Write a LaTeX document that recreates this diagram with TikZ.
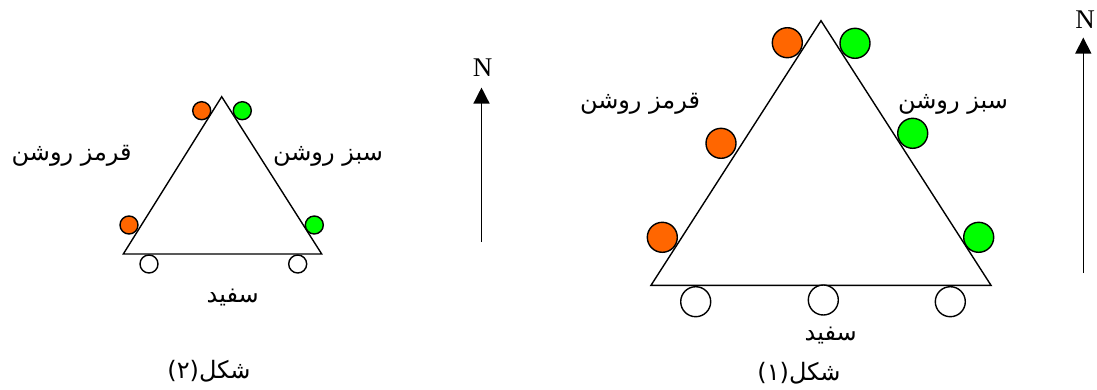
\documentclass[tikz,border=0pt]{standalone}
\usepackage{fontspec}
\setmainfont{Liberation Serif}
\newfontfamily\arabicfont[Script=Arabic]{DejaVu Sans}
\TeXXeTstate=1
\usetikzlibrary{arrows.meta}
\definecolor{rosh}{RGB}{255,102,0}
\definecolor{sabz}{RGB}{0,255,0}

\begin{document}
\begin{tikzpicture}[x=1pt, y=-1pt, line width=1.4pt,
    bead/.style={circle, draw, inner sep=0pt, minimum size=#1},
    fatext/.style={font=\arabicfont\fontsize{24}{28}\selectfont, inner sep=0pt},
    north/.style={font=\fontsize{27}{30}\selectfont, inner sep=0pt}]
  \useasboundingbox (0,0) rectangle (1097,389);

  % Figure 2 (small triangle)
  \coordinate (sA) at (221.7,96.7);
  \coordinate (sB) at (123.3,254);
  \coordinate (sC) at (321.7,254);
  \draw (sA) -- (sB) -- (sC) -- cycle;
  \node[bead=18, fill=rosh] (sr1) at (201.7,110.7) {};
  \node[bead=18, fill=rosh] (sr2) at (129,225) {};
  \node[bead=18, fill=sabz] (sg1) at (242.3,110.7) {};
  \node[bead=18, fill=sabz] (sg2) at (314.3,225) {};
  \node[bead=18, fill=white] (sw1) at (149,264) {};
  \node[bead=18, fill=white] (sw2) at (297.7,264) {};
  \node[fatext] (sred) at (71.7,156) {\beginR قرمز روشن\endR};
  \node[fatext] (sgreen) at (328,156) {\beginR سبز روشن\endR};
  \node[fatext] (swhite) at (232.7,298) {\beginR سفید\endR};
  \node[fatext] (scap) at (209,371) {(۲)\beginR شکل\endR};

  % North arrow, small
  \node[north] (sN) at (482.5,68) {N};
  \coordinate (sfoot) at (481.5,242);
  \draw[-{Triangle[width=16pt, length=16pt]}] (sfoot) -- ([yshift=-10pt]sN.south -| sfoot);

  % Figure 1 (large triangle)
  \coordinate (bA) at (821,20.7);
  \coordinate (bB) at (651,285.3);
  \coordinate (bC) at (991,285.3);
  \draw (bA) -- (bB) -- (bC) -- cycle;
  \node[bead=30, fill=rosh] (br1) at (787.3,42.7) {};
  \node[bead=30, fill=rosh] (br2) at (721,143.3) {};
  \node[bead=30, fill=rosh] (br3) at (662.3,237.3) {};
  \node[bead=30, fill=sabz] (bg1) at (855,43.3) {};
  \node[bead=30, fill=sabz] (bg2) at (912.7,133.3) {};
  \node[bead=30, fill=sabz] (bg3) at (978.7,237.3) {};
  \node[bead=30, fill=white] (bw1) at (695.7,301.7) {};
  \node[bead=30, fill=white] (bw2) at (823.3,300) {};
  \node[bead=30, fill=white] (bw3) at (950.3,301.7) {};
  \node[fatext] (bred) at (640,104) {\beginR قرمز روشن\endR};
  \node[fatext] (bgreen) at (953,104) {\beginR سبز روشن\endR};
  \node[fatext] (bwhite) at (830.7,336) {\beginR سفید\endR};
  \node[fatext] (bcap) at (799,373) {(۱)\beginR شکل\endR};

  % North arrow, large
  \node[north] (bN) at (1085,20) {N};
  \coordinate (bfoot) at (1083.3,273);
  \draw[-{Triangle[width=16pt, length=16pt]}] (bfoot) -- ([yshift=-8pt]bN.south -| bfoot);
\end{tikzpicture}
\end{document}
